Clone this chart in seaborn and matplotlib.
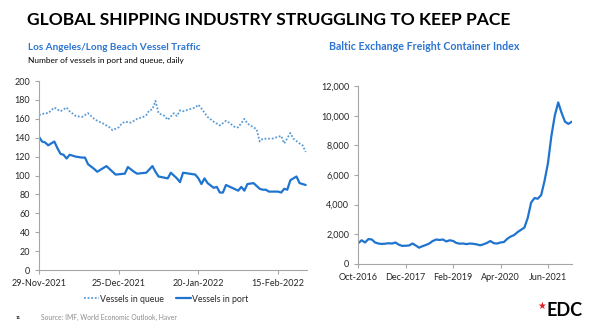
import numpy as np
import pandas as pd
import matplotlib
matplotlib.use("Agg")
import matplotlib.pyplot as plt
import matplotlib.dates as mdates
import seaborn as sns

# ---------------- data ----------------
# LA/Long Beach: day offsets from 29-Nov-2021
queue_days = [0, 2, 3, 5, 6, 7, 9, 10, 12, 14, 16, 18, 19, 21, 23, 24, 26, 27, 28, 30,
              32, 34, 35, 36, 37, 38, 39, 41, 42, 44, 45, 46, 47, 49, 51, 52, 53, 55, 57,
              59, 61, 62, 64, 65, 67, 68, 71, 72, 73, 76, 79, 80, 82, 83, 85, 86, 87]
queue_vals = [164, 166, 166, 172, 170, 168, 172, 168, 163, 162, 166, 160, 158, 155, 151,
              148, 151, 155, 157, 156, 160, 162, 164, 169, 170, 179, 166, 163, 159, 166,
              163, 169, 168, 170, 172, 175, 171, 162, 157, 153, 158, 156, 151, 151, 160,
              155, 149, 136, 139, 139, 142, 134, 145, 139, 134, 132, 125]
port_days = [0, 1, 2, 3, 5, 6, 7, 8, 9, 10, 12, 14, 15, 16, 18, 19, 20, 22, 24, 25, 28,
             29, 31, 32, 35, 37, 38, 39, 42, 43, 45, 46, 47, 49, 51, 52, 53, 54, 55, 57,
             58, 59, 60, 61, 63, 65, 66, 67, 68, 70, 72, 73, 74, 75, 78, 79, 80, 81, 82,
             84, 85, 87]
port_vals = [141, 136, 135, 132, 136, 129, 123, 122, 118, 122, 120, 119, 119, 112, 107,
             104, 106, 110, 104, 101, 102, 109, 104, 102, 103, 110, 104, 99, 97, 103, 97,
             93, 103, 102, 101, 97, 91, 97, 92, 87, 88, 82, 82, 90, 87, 84, 88, 84, 91, 92,
             86, 85, 85, 83, 83, 82, 86, 85, 95, 99, 92, 90]
left_ticks = ["29-Nov-2021", "25-Dec-2021", "20-Jan-2022", "15-Feb-2022"]

# Baltic Exchange Freight Container Index, monthly from Oct-2016
baltic_vals = [1400, 1600, 1450, 1680, 1650, 1450, 1380, 1350, 1370, 1400, 1380, 1450,
               1300, 1220, 1230, 1250, 1380, 1250, 1100, 1200, 1280, 1380, 1550, 1650,
               1620, 1650, 1520, 1600, 1550, 1420, 1370, 1380, 1340, 1380, 1360, 1320,
               1260, 1330, 1420, 1550, 1400, 1380, 1450, 1480, 1700, 1850, 1950, 2150,
               2300, 2450, 3100, 4150, 4450, 4400, 4650, 5600, 6800, 8600, 10000, 10900,
               10200, 9600, 9450, 9600]
right_ticks = ["Oct-2016", "Dec-2017", "Feb-2019", "Apr-2020", "Jun-2021"]

# ---------------- style ----------------
sns.set_style("ticks")
plt.rcParams["font.family"] = ["Lato", "DejaVu Sans"]

BLUE = "#1F74CF"
LBLUE = "#5B9BD5"
TITLE_BLUE = "#2C75D2"
SPINE = "#A6A6A6"
TXT = "#404040"

W, H = 600, 335
fig = plt.figure(figsize=(6.0, 3.35), dpi=100)

start = pd.Timestamp("2021-11-29")
qdf = pd.DataFrame({"date": start + pd.to_timedelta(queue_days, unit="D"), "v": queue_vals})
pdf = pd.DataFrame({"date": start + pd.to_timedelta(port_days, unit="D"), "v": port_vals})
bdf = pd.DataFrame({"date": pd.date_range("2016-10-01", periods=len(baltic_vals), freq="MS"),
                    "v": baltic_vals})

# left chart
ax1 = fig.add_axes([0.065, 0.194, 0.447, 0.564])
sns.lineplot(data=qdf, x="date", y="v", ax=ax1, color=LBLUE, lw=1.3, linestyle=(0, (1, 1)),
             label="Vessels in queue")
sns.lineplot(data=pdf, x="date", y="v", ax=ax1, color=BLUE, lw=1.6, label="Vessels in port")
ax1.set_ylim(0, 200)
ax1.set_yticks(range(0, 201, 20))
ax1.set_xlim(start, start + pd.Timedelta(days=87.5))
ax1.set_xticks([pd.Timestamp(t) for t in left_ticks])
ax1.set_xticklabels(left_ticks)
ax1.set_xlabel("")
ax1.set_ylabel("")
leg = ax1.legend(loc="center", bbox_to_anchor=(166 / W, 1 - 299 / H),
                 bbox_transform=fig.transFigure, ncol=2, frameon=False,
                 fontsize=6.3, handlelength=1.8, handletextpad=0.1, columnspacing=1.3,
                 borderpad=0)
for t in leg.get_texts():
    t.set_color("#262626")

# right chart
ax2 = fig.add_axes([0.597, 0.212, 0.356, 0.531])
sns.lineplot(data=bdf, x="date", y="v", ax=ax2, color=BLUE, lw=1.6)
ax2.set_ylim(0, 12000)
ax2.set_yticks(range(0, 12001, 2000))
ax2.yaxis.set_major_formatter(matplotlib.ticker.FuncFormatter(lambda v, p: f"{int(v):,}"))
ax2.set_xlim(bdf["date"].iloc[0], bdf["date"].iloc[-1])
ax2.set_xticks([pd.to_datetime(t, format="%b-%Y") for t in right_ticks])
ax2.set_xticklabels(right_ticks)
ax2.set_xlabel("")
ax2.set_ylabel("")

for ax in (ax1, ax2):
    sns.despine(ax=ax)
    for s in ("left", "bottom"):
        ax.spines[s].set_color(SPINE)
        ax.spines[s].set_linewidth(0.8)
    ax.tick_params(axis="both", labelsize=6.5, colors=SPINE, labelcolor="#262626",
                   length=3, width=0.8)

renderer = fig.canvas.get_renderer()


def put(x_px, y_px, s, width_px, **kw):
    t = fig.text(x_px / W, 1 - y_px / H, s, va="center", ha="left", **kw)
    bb = t.get_window_extent(renderer)
    t.set_fontsize(t.get_fontsize() * width_px / bb.width)
    return t


put(27, 20, "GLOBAL SHIPPING INDUSTRY STRUGGLING TO KEEP PACE", 488, fontsize=14,
    fontweight="bold", color="black")
put(28, 47, "Los Angeles/Long Beach Vessel Traffic", 175, fontsize=8, fontweight="bold",
    color=TITLE_BLUE)
put(28, 60, "Number of vessels in port and queue, daily", 154, fontsize=6.5, color="black")
put(329, 47, "Baltic Exchange Freight Container Index", 191, fontsize=8, fontweight="bold",
    color=TITLE_BLUE)
put(16, 318, "11", 5, fontsize=5, color="black", fontweight="bold")
put(41, 317, "Source: IMF, World Economic Outlook, Haver", 137, fontsize=5.5, color="#8C8C8C")
put(546, 311, "EDC", 36, fontsize=11, fontweight="bold", color="black")
fig.text(542 / W, 1 - 306 / H, "\u2605", fontsize=7, color="#E41B23", va="center",
         ha="center", family=["DejaVu Sans"])

fig.savefig("out.png", dpi=100)
